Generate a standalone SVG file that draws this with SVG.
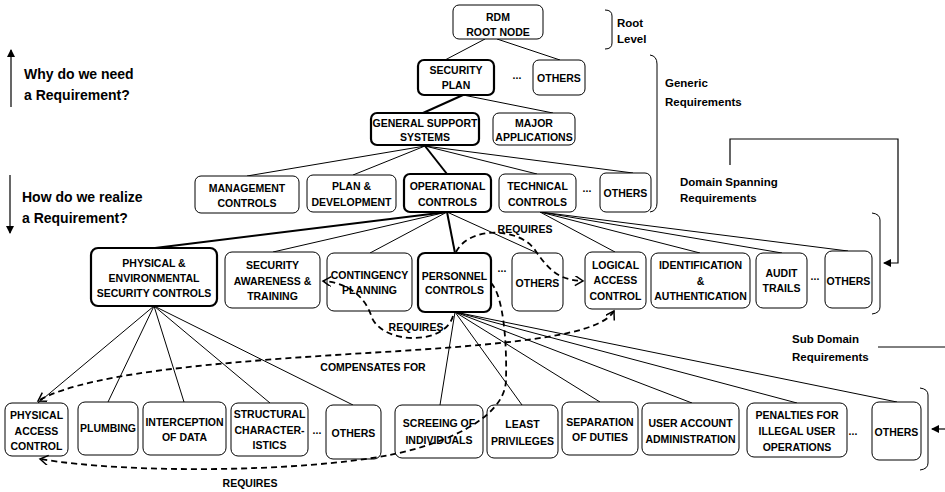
<svg xmlns="http://www.w3.org/2000/svg" width="945" height="492" viewBox="0 0 945 492">
<style>
.n rect{fill:#fff;stroke:#000;stroke-width:1}
.n.b rect{stroke-width:2.2}
text{font-family:"Liberation Sans",Arial,sans-serif;font-weight:bold;fill:#000}
.n text,.lbl,.dots{font-size:10.5px;text-anchor:middle}
.side{font-size:11.5px}
.q{font-size:14px}
.e line{stroke:#000;stroke-width:1}
.e line.t{stroke-width:2}
.d{fill:none;stroke:#000;stroke-width:1.8;stroke-dasharray:6 4}
.br{fill:none;stroke:#000;stroke-width:1}
</style>
<defs>
<marker id="open" markerUnits="userSpaceOnUse" markerWidth="12" markerHeight="12" refX="9" refY="5" orient="auto-start-reverse">
<path d="M1,0 L9,5 L1,10" fill="none" stroke="#000" stroke-width="1.5"/>
</marker>
<marker id="fill" markerUnits="userSpaceOnUse" markerWidth="10" markerHeight="10" refX="7" refY="4" orient="auto">
<path d="M0,0 L8,4 L0,8 Z" fill="#000"/>
</marker>
</defs>

<g id="connectors" class="e">
<line x1="485" y1="39" x2="445" y2="60"/>
<line x1="497" y1="39" x2="560" y2="60"/>
<line class="t" x1="463" y1="95" x2="423" y2="113"/>
<line x1="463" y1="95" x2="553" y2="113"/>
<line x1="425" y1="146" x2="247" y2="176"/>
<line x1="425" y1="146" x2="353" y2="175"/>
<line class="t" x1="425" y1="146" x2="447" y2="174"/>
<line x1="425" y1="146" x2="537" y2="174"/>
<line x1="425" y1="146" x2="633" y2="173"/>
<line class="t" x1="447" y1="212" x2="155" y2="248"/>
<line x1="447" y1="212" x2="273" y2="252"/>
<line x1="447" y1="212" x2="370" y2="253"/>
<line class="t" x1="447" y1="212" x2="455" y2="253"/>
<line x1="447" y1="212" x2="537" y2="253"/>
<line x1="540" y1="212" x2="615" y2="252"/>
<line x1="540" y1="212" x2="700" y2="253"/>
<line x1="540" y1="212" x2="782" y2="253"/>
<line x1="540" y1="212" x2="848" y2="251"/>
<line x1="154" y1="306" x2="38" y2="403"/>
<line x1="154" y1="306" x2="108" y2="402"/>
<line x1="154" y1="306" x2="184" y2="402"/>
<line x1="154" y1="306" x2="270" y2="403"/>
<line x1="154" y1="306" x2="353" y2="405"/>
<line x1="455" y1="312" x2="440" y2="405"/>
<line x1="455" y1="312" x2="522" y2="405"/>
<line x1="455" y1="312" x2="600" y2="402"/>
<line x1="455" y1="312" x2="692" y2="403"/>
<line x1="455" y1="312" x2="797" y2="403"/>
<line x1="455" y1="312" x2="897" y2="402"/>
</g>

<g id="root" class="n"><rect x="453" y="5" width="90" height="34" rx="6"/><text x="498" y="21">RDM</text><text x="498" y="36">ROOT NODE</text></g>
<g id="secplan" class="n b"><rect x="418" y="60" width="76" height="35" rx="6"/><text x="456" y="74">SECURITY</text><text x="456" y="89">PLAN</text></g>
<g id="others1" class="n"><rect x="533" y="60" width="52" height="35" rx="6"/><text x="559" y="82">OTHERS</text></g>
<g id="gss" class="n b"><rect x="371" y="113" width="108" height="32" rx="6"/><text x="425" y="127">GENERAL SUPPORT</text><text x="425" y="141">SYSTEMS</text></g>
<g id="major" class="n"><rect x="493" y="113" width="82" height="32" rx="6"/><text x="534" y="127">MAJOR</text><text x="534" y="141">APPLICATIONS</text></g>

<g id="mgmt" class="n"><rect x="195" y="176" width="104" height="37" rx="6"/><text x="247" y="192">MANAGEMENT</text><text x="247" y="207">CONTROLS</text></g>
<g id="plandev" class="n"><rect x="307" y="175" width="89" height="37" rx="6"/><text x="351.5" y="190">PLAN &amp;</text><text x="351.5" y="206">DEVELOPMENT</text></g>
<g id="oper" class="n b"><rect x="404" y="174" width="87" height="38" rx="6"/><text x="447.5" y="190">OPERATIONAL</text><text x="447.5" y="206">CONTROLS</text></g>
<g id="tech" class="n"><rect x="499" y="174" width="77" height="38" rx="6"/><text x="537.5" y="190">TECHNICAL</text><text x="537.5" y="206">CONTROLS</text></g>
<g id="others2" class="n"><rect x="600" y="173" width="51" height="39" rx="6"/><text x="625.5" y="197">OTHERS</text></g>

<g id="physenv" class="n b"><rect x="91" y="248" width="126" height="58" rx="7"/><text x="154" y="267">PHYSICAL &amp;</text><text x="154" y="282">ENVIRONMENTAL</text><text x="154" y="297">SECURITY CONTROLS</text></g>
<g id="secaware" class="n"><rect x="225" y="252" width="95" height="56" rx="7"/><text x="272.5" y="269">SECURITY</text><text x="272.5" y="285">AWARENESS &amp;</text><text x="272.5" y="300">TRAINING</text></g>
<g id="conting" class="n"><rect x="327" y="253" width="85" height="58" rx="7"/><text x="369.5" y="279">CONTINGENCY</text><text x="369.5" y="294">PLANNING</text></g>
<g id="personnel" class="n b"><rect x="418" y="253" width="73" height="59" rx="7"/><text x="454.5" y="280">PERSONNEL</text><text x="454.5" y="294">CONTROLS</text></g>
<g id="others3" class="n"><rect x="512" y="253" width="51" height="58" rx="7"/><text x="537.5" y="287">OTHERS</text></g>
<g id="logical" class="n"><rect x="585" y="252" width="61" height="57" rx="7"/><text x="615.5" y="269">LOGICAL</text><text x="615.5" y="284">ACCESS</text><text x="615.5" y="300">CONTROL</text></g>
<g id="ident" class="n"><rect x="651" y="253" width="99" height="55" rx="7"/><text x="700.5" y="269">IDENTIFICATION</text><text x="700.5" y="285">&amp;</text><text x="700.5" y="300">AUTHENTICATION</text></g>
<g id="audit" class="n"><rect x="756" y="253" width="51" height="55" rx="7"/><text x="781.5" y="277">AUDIT</text><text x="781.5" y="292">TRAILS</text></g>
<g id="others4" class="n"><rect x="825" y="251" width="47" height="57" rx="7"/><text x="848.5" y="285">OTHERS</text></g>

<g id="physaccess" class="n"><rect x="5" y="403" width="63" height="53" rx="7"/><text x="36.5" y="419">PHYSICAL</text><text x="36.5" y="435">ACCESS</text><text x="36.5" y="450">CONTROL</text></g>
<g id="plumbing" class="n"><rect x="78" y="402" width="60" height="53" rx="7"/><text x="108" y="432">PLUMBING</text></g>
<g id="intercept" class="n"><rect x="143" y="402" width="83" height="53" rx="7"/><text x="184.5" y="426">INTERCEPTION</text><text x="184.5" y="441">OF DATA</text></g>
<g id="structural" class="n"><rect x="231" y="403" width="77" height="53" rx="7"/><text x="269.5" y="418">STRUCTURAL</text><text x="269.5" y="434">CHARACTER-</text><text x="269.5" y="449">ISTICS</text></g>
<g id="others5" class="n"><rect x="326" y="405" width="55" height="54" rx="7"/><text x="353.5" y="437">OTHERS</text></g>
<g id="screening" class="n"><rect x="395" y="405" width="88" height="53" rx="7"/><text x="439" y="427">SCREEING OF</text><text x="439" y="444">INDIVIDUALS</text></g>
<g id="least" class="n"><rect x="487" y="405" width="71" height="53" rx="7"/><text x="522.5" y="428">LEAST</text><text x="522.5" y="445">PRIVILEGES</text></g>
<g id="separation" class="n"><rect x="562" y="402" width="76" height="53" rx="7"/><text x="600" y="426">SEPARATION</text><text x="600" y="441">OF DUTIES</text></g>
<g id="useracct" class="n"><rect x="642" y="403" width="97" height="52" rx="7"/><text x="690.5" y="427">USER ACCOUNT</text><text x="690.5" y="443">ADMINISTRATION</text></g>
<g id="penalties" class="n"><rect x="747" y="403" width="100" height="54" rx="7"/><text x="797" y="419">PENALTIES FOR</text><text x="797" y="435">ILLEGAL USER</text><text x="797" y="451">OPERATIONS</text></g>
<g id="others6" class="n"><rect x="872" y="402" width="49" height="58" rx="7"/><text x="896.5" y="436">OTHERS</text></g>

<g id="relations">
<path class="d" d="M456,252 C470,225 520,228 535,250 S560,280 583,281" marker-end="url(#open)"/>
<path class="d" d="M453,316 C445,345 385,345 372,318 C366,298 350,283 323,281" marker-end="url(#open)"/>
<path class="d" d="M614,311 C600,335 520,343 400,351 C250,360 90,370 38,401" marker-start="url(#open)" marker-end="url(#open)"/>
<path class="d" d="M491,283 C503,295 507,340 506,380 C505,420 440,445 390,455 C300,472 130,474 40,459" marker-end="url(#open)"/>
<text class="lbl" x="525" y="233">REQUIRES</text>
<text class="lbl" x="416" y="331">REQUIRES</text>
<text class="lbl" x="373" y="371">COMPENSATES FOR</text>
<text class="lbl" x="250" y="487">REQUIRES</text>
</g>

<g id="ellipses">
<text class="dots" x="517" y="79">...</text>
<text class="dots" x="587" y="192">...</text>
<text class="dots" x="502" y="272">...</text>
<text class="dots" x="815" y="280">...</text>
<text class="dots" x="317" y="434">...</text>
<text class="dots" x="853" y="435">...</text>
</g>

<g id="annotations">
<line x1="11" y1="107" x2="11" y2="50" stroke="#000" stroke-width="1.2" marker-end="url(#fill)"/>
<text class="q" x="24" y="79">Why do we need</text>
<text class="q" x="24" y="100">a Requirement?</text>
<line x1="10" y1="175" x2="10" y2="233" stroke="#000" stroke-width="1.2" marker-end="url(#fill)"/>
<text class="q" x="22" y="202">How do we realize</text>
<text class="q" x="22" y="223">a Requirement?</text>

<path class="br" d="M605,10 Q612,10 612,16 L612,43 Q612,49 605,49"/>
<text class="side" x="617" y="27">Root</text>
<text class="side" x="617" y="43">Level</text>
<path class="br" d="M650,55 Q657,56 657,64 L657,203 Q657,211 650,212"/>
<text class="side" x="665" y="87">Generic</text>
<text class="side" x="665" y="106">Requirements</text>
<path class="br" d="M872,213 Q880,214 880,220 L880,307 Q880,313 872,314"/>
<polyline fill="none" stroke="#000" stroke-width="1.2" points="730,165 730,139 898,139 898,263 884,263" marker-end="url(#fill)"/>
<text class="side" x="680" y="186">Domain Spanning</text>
<text class="side" x="680" y="202">Requirements</text>
<path class="br" d="M920,388 Q928,389 928,395 L928,463 Q928,469 920,470"/>
<line x1="878" y1="347" x2="945" y2="347" stroke="#000" stroke-width="1"/>
<line x1="945" y1="429" x2="932" y2="429" stroke="#000" stroke-width="1.2" marker-end="url(#fill)"/>
<text class="side" x="792" y="343">Sub Domain</text>
<text class="side" x="792" y="361">Requirements</text>
</g>
</svg>
